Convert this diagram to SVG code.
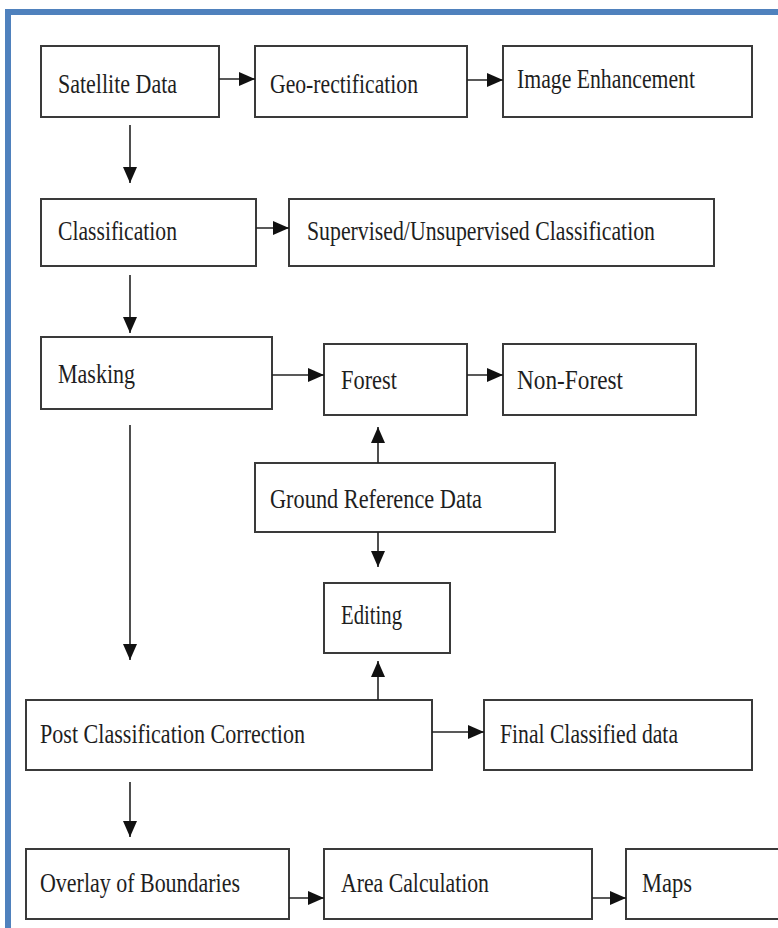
<svg xmlns="http://www.w3.org/2000/svg" width="778" height="928" viewBox="0 0 778 928">
<style>
.box{fill:#fff;stroke:#3a3a3a;stroke-width:2}
.lbl{font-family:"Liberation Serif","Times New Roman",serif;font-size:27px;fill:#1e1e1e}
.con{stroke:#222;stroke-width:1.6;fill:none;marker-end:url(#ah)}
</style>
<defs>
<marker id="ah" markerUnits="userSpaceOnUse" markerWidth="16" markerHeight="14" refX="16" refY="7" orient="auto">
<path d="M0,0 L16,7 L0,14 z" fill="#111"/>
</marker>
</defs>
<rect x="0" y="0" width="778" height="928" fill="#fff"/>
<rect x="8" y="12" width="800" height="950" fill="none" stroke="#4F81BD" stroke-width="6"/>
<g id="satellite"><rect class="box" x="41" y="46" width="178" height="71"/><text class="lbl" x="58" y="93" textLength="119" lengthAdjust="spacingAndGlyphs">Satellite Data</text></g>
<g id="georect"><rect class="box" x="255" y="46" width="212" height="71"/><text class="lbl" x="270" y="93" textLength="148" lengthAdjust="spacingAndGlyphs">Geo-rectification</text></g>
<g id="enhance"><rect class="box" x="503" y="46" width="249" height="71"/><text class="lbl" x="517" y="88" textLength="178" lengthAdjust="spacingAndGlyphs">Image Enhancement</text></g>
<g id="classification"><rect class="box" x="41" y="199" width="215" height="67"/><text class="lbl" x="58" y="240" textLength="119" lengthAdjust="spacingAndGlyphs">Classification</text></g>
<g id="supervised"><rect class="box" x="289" y="199" width="425" height="67"/><text class="lbl" x="307" y="240" textLength="348" lengthAdjust="spacingAndGlyphs">Supervised/Unsupervised Classification</text></g>
<g id="masking"><rect class="box" x="41" y="337" width="231" height="72"/><text class="lbl" x="58" y="383" textLength="77" lengthAdjust="spacingAndGlyphs">Masking</text></g>
<g id="forest"><rect class="box" x="324" y="344" width="143" height="71"/><text class="lbl" x="341" y="389" textLength="56" lengthAdjust="spacingAndGlyphs">Forest</text></g>
<g id="nonforest"><rect class="box" x="503" y="344" width="193" height="71"/><text class="lbl" x="517" y="389" textLength="106" lengthAdjust="spacingAndGlyphs">Non-Forest</text></g>
<g id="ground"><rect class="box" x="255" y="463" width="300" height="69"/><text class="lbl" x="270" y="508" textLength="212" lengthAdjust="spacingAndGlyphs">Ground Reference Data</text></g>
<g id="editing"><rect class="box" x="324" y="583" width="126" height="70"/><text class="lbl" x="341" y="624" textLength="61" lengthAdjust="spacingAndGlyphs">Editing</text></g>
<g id="postclass"><rect class="box" x="26" y="700" width="406" height="70"/><text class="lbl" x="40" y="743" textLength="265" lengthAdjust="spacingAndGlyphs">Post Classification Correction</text></g>
<g id="final"><rect class="box" x="484" y="700" width="268" height="70"/><text class="lbl" x="500" y="743" textLength="178" lengthAdjust="spacingAndGlyphs">Final Classified data</text></g>
<g id="overlay"><rect class="box" x="26" y="849" width="263" height="70"/><text class="lbl" x="40" y="892" textLength="200" lengthAdjust="spacingAndGlyphs">Overlay of Boundaries</text></g>
<g id="area"><rect class="box" x="324" y="849" width="268" height="70"/><text class="lbl" x="341" y="892" textLength="148" lengthAdjust="spacingAndGlyphs">Area Calculation</text></g>
<g id="maps"><rect class="box" x="626" y="849" width="170" height="70"/><text class="lbl" x="642" y="892" textLength="50" lengthAdjust="spacingAndGlyphs">Maps</text></g>
<g id="connectors">
<line class="con" x1="219" y1="79" x2="255" y2="79"/>
<line class="con" x1="467" y1="80" x2="503" y2="80"/>
<line class="con" x1="130" y1="125" x2="130" y2="183"/>
<line class="con" x1="256" y1="228" x2="289" y2="228"/>
<line class="con" x1="130" y1="275" x2="130" y2="333"/>
<line class="con" x1="272" y1="375" x2="324" y2="375"/>
<line class="con" x1="467" y1="375" x2="503" y2="375"/>
<line class="con" x1="378" y1="463" x2="378" y2="427"/>
<line class="con" x1="378" y1="532" x2="378" y2="567"/>
<line class="con" x1="130" y1="425" x2="130" y2="660"/>
<line class="con" x1="378" y1="700" x2="378" y2="661"/>
<line class="con" x1="432" y1="732" x2="484" y2="732"/>
<line class="con" x1="130" y1="782" x2="130" y2="837"/>
<line class="con" x1="289" y1="898" x2="324" y2="898"/>
<line class="con" x1="592" y1="898" x2="626" y2="898"/>
</g>
</svg>
